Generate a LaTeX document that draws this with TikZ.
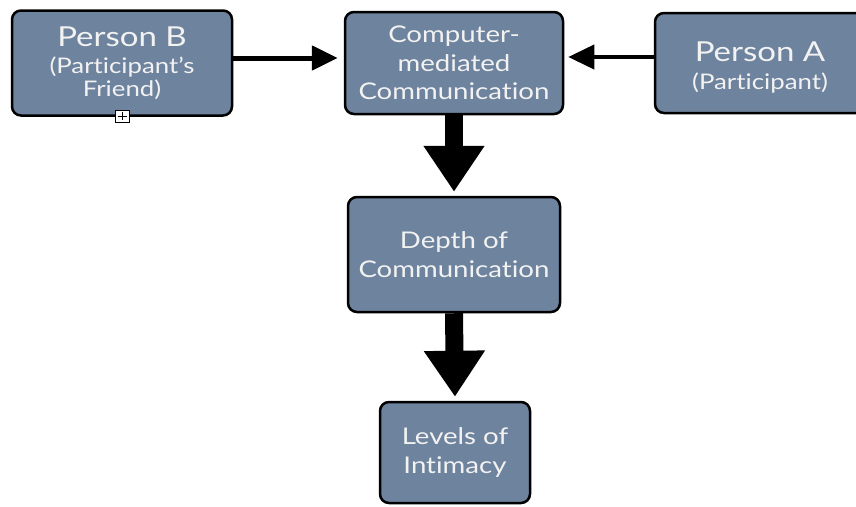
\documentclass[tikz,border=0pt]{standalone}
\usepackage{fontspec}
\setmainfont{Lato}[FakeStretch=1.2, Ligatures={NoCommon}]
\usetikzlibrary{arrows.meta}
\definecolor{boxfill}{RGB}{110,131,158}
\definecolor{boxtext}{RGB}{242,242,242}
\newcommand{\bigsz}{\fontsize{27.5}{23}\selectfont}
\newcommand{\smsz}{\fontsize{21.5}{23}\selectfont}
\begin{document}
\begin{tikzpicture}[x=1pt,y=-1pt,
  box/.style={draw=black, line width=2.5pt, fill=boxfill, rounded corners=9pt,
    text=boxtext, align=center, inner sep=0pt},
  mid/.style={font=\fontsize{23}{28.5}\selectfont},
  sm/.style={font=\smsz},
  thinarrow/.style={line width=5pt, -{Triangle[length=26pt 0,width=24pt 0]}},
  fatarrow/.style={line width=18pt, -{Triangle[length=46pt 0,width=58pt 0]}}]
\useasboundingbox (0,0) rectangle (856,506);
\clip (0,0) rectangle (856,506);
\node[box, sm, minimum width=220pt, minimum height=105pt] (b) at (122,63) {%
  {\bigsz Person B}\\[4pt](Participant’s\\Friend)};
\node[box, mid, minimum width=218pt, minimum height=102pt] (c) at (454,63) {Computer-\\mediated\\Communication};
\node[box, sm, minimum width=210pt, minimum height=100pt] (a) at (760,63) {%
  {\bigsz\rule{0pt}{28pt}Person A}\\[5pt](Participant)};
\node[box, mid, minimum width=212pt, minimum height=115pt] (d) at (454,254.5) {Depth of\\Communication};
\node[box, mid, minimum width=150pt, minimum height=101pt] (l) at (455,452.5) {Levels of\\Intimacy};
\node[draw=black, fill=white, line width=0.8pt, minimum width=14pt, minimum height=12pt, inner sep=0pt] (h) at (122.5,116) {};
\draw[line width=0.8pt] ([xshift=2.5pt]h.west) -- ([xshift=-2.5pt]h.east);
\draw[line width=0.8pt] ([yshift=-2.5pt]h.north) -- ([yshift=2.5pt]h.south);
\draw[thinarrow, shorten >=6pt] ([yshift=5pt]b.east) -- ([yshift=5pt]c.west);
\draw[thinarrow, line width=4pt, shorten >=4pt] ([yshift=6pt]a.west) -- ([yshift=6pt]c.east);
\draw[fatarrow, shorten >=4pt] (c.south) -- (d.north);
\draw[fatarrow, shorten >=4pt] (d.south) -- (l.north);
\end{tikzpicture}
\end{document}
